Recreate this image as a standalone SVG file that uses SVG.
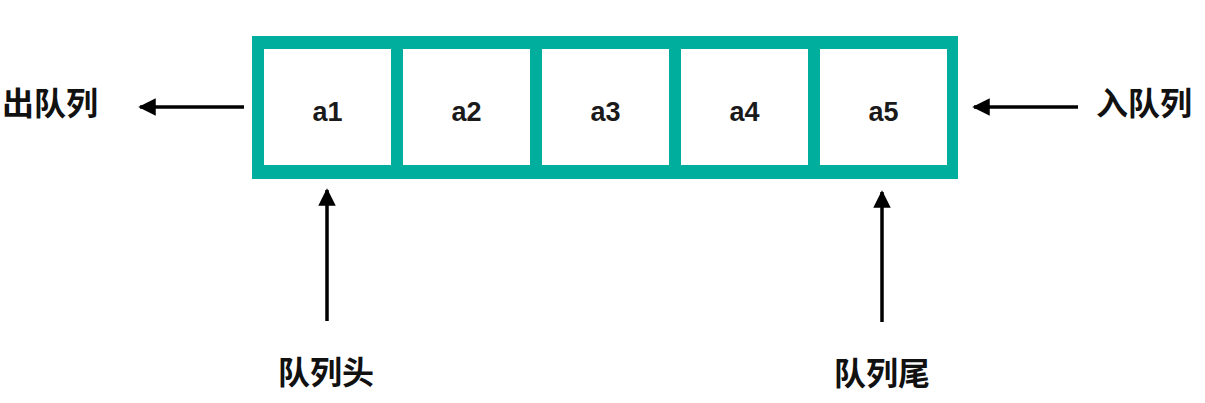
<svg xmlns="http://www.w3.org/2000/svg" width="1205" height="403" viewBox="0 0 1205 403">
<style>
.cell{fill:#ffffff}
.lbl{font-family:"Liberation Sans",Arial,sans-serif;font-size:27px;font-weight:bold;fill:#1a1a1a;text-anchor:middle}
.cjk{font-family:"Noto Sans CJK SC","Noto Sans",sans-serif;font-size:32px;font-weight:bold;fill:#111;text-anchor:middle}
.conn{stroke:#000;stroke-width:3.5;fill:none;marker-end:url(#ah)}
</style>
<defs>
<marker id="ah" viewBox="0 0 10 10" refX="9" refY="5" markerWidth="5.5" markerHeight="5" markerUnits="strokeWidth" orient="auto">
<path d="M0,0 L10,5 L0,10 z" fill="#000"/>
</marker>
</defs>
<rect x="0" y="0" width="1205" height="403" fill="#ffffff"/>
<g id="queue">
<rect x="252" y="36" width="706" height="143" fill="#00ae9d"/>
</g>
<g id="a1"><rect class="cell" x="264" y="49" width="127" height="116"/><text class="lbl" x="327.5" y="121">a1</text></g>
<g id="a2"><rect class="cell" x="403" y="49" width="127" height="116"/><text class="lbl" x="466.5" y="121">a2</text></g>
<g id="a3"><rect class="cell" x="542" y="49" width="127" height="116"/><text class="lbl" x="605.5" y="121">a3</text></g>
<g id="a4"><rect class="cell" x="681" y="49" width="127" height="116"/><text class="lbl" x="744.5" y="121">a4</text></g>
<g id="a5"><rect class="cell" x="820" y="49" width="127" height="116"/><text class="lbl" x="883.5" y="121">a5</text></g>
<g id="connectors">
<line class="conn" x1="244" y1="107" x2="140" y2="107"/>
<line class="conn" x1="1078" y1="107" x2="974" y2="107"/>
<line class="conn" x1="327" y1="321" x2="327" y2="190"/>
<line class="conn" x1="882" y1="322" x2="882" y2="192"/>
</g>
<g id="dequeue"><text class="cjk" x="50" y="115">出队列</text></g>
<g id="enqueue"><text class="cjk" x="1144" y="115">入队列</text></g>
<g id="head"><text class="cjk" x="326" y="384">队列头</text></g>
<g id="tail"><text class="cjk" x="882" y="385">队列尾</text></g>
</svg>
